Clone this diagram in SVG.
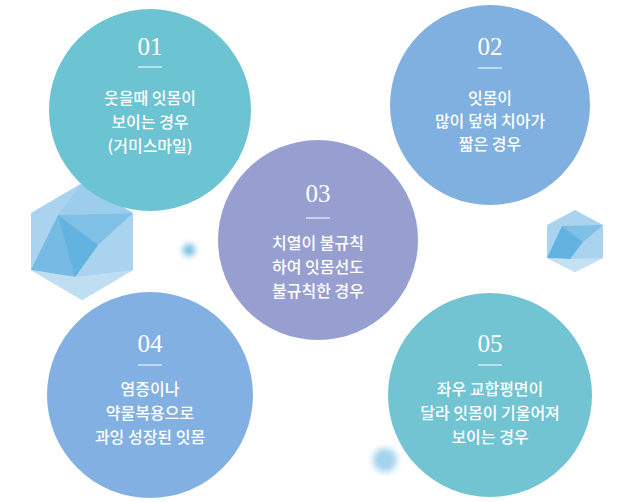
<svg xmlns="http://www.w3.org/2000/svg" width="640" height="502" viewBox="0 0 640 502">
<defs>
<style>
.n{font-family:"Liberation Serif",serif;font-size:25px;fill:#fff;text-anchor:middle}
.t{font-family:"Noto Sans CJK KR","Liberation Sans",sans-serif;font-size:16px;font-weight:500;fill:#fff;text-anchor:middle}
.l{stroke:#fff;stroke-width:1}
</style>
<filter id="b" x="-1" y="-1" width="3" height="3"><feGaussianBlur stdDeviation="3"/></filter>
</defs>
<rect width="640" height="502" fill="#fff"/>
<g id="hexL">
<polygon points="82,183 133,213 133,270 82,300 31,270 31,213" fill="#a9d3ee"/>
<polygon points="58,215 98,245 75,277 31,270" fill="#75bbe4"/>
<polygon points="58,215 133,213 98,245" fill="#7fc0e6"/>
<polygon points="58,215 98,245 75,277" fill="#62b3e0"/>
<polygon points="82,183 133,213 58,215" fill="#9ccdec"/>
<polygon points="75,277 133,270 82,300 31,270" fill="#bfdef2"/>
</g>
<g id="hexR">
<polygon points="575,210 603,225 603,258 575,272 547,258 547,225" fill="#a9d3ee"/>
<polygon points="562,226 603,225 583,242" fill="#7fc0e6"/>
<polygon points="562,226 583,242 570,259 547,258" fill="#62b3e0"/>
<polygon points="570,259 603,258 575,272 547,258" fill="#c4e1f3"/>
</g>
<circle cx="189" cy="250" r="6" fill="#6cb8e3" filter="url(#b)"/>
<circle cx="385" cy="460" r="12" fill="#8cc8ea" filter="url(#b)" opacity="0.8"/>
<g id="c1"><circle cx="150" cy="110" r="101" fill="#6cc3d1"/>
<text class="n" x="150" y="55">01</text><line class="l" x1="138" y1="67" x2="162" y2="67"/>
<text class="t" x="150" y="104">웃을때 잇몸이</text><text class="t" x="150" y="128">보이는 경우</text><text class="t" x="150" y="152">(거미스마일)</text></g>
<g id="c2"><circle cx="490" cy="105" r="100" fill="#7fb0e0"/>
<text class="n" x="490" y="55">02</text><line class="l" x1="478" y1="68" x2="502" y2="68"/>
<text class="t" x="490" y="104">잇몸이</text><text class="t" x="490" y="127">많이 덮혀 치아가</text><text class="t" x="490" y="150">짧은 경우</text></g>
<g id="c3"><circle cx="318" cy="240" r="100" fill="#979fd0"/>
<text class="n" x="318" y="202">03</text><line class="l" x1="306" y1="218" x2="330" y2="218"/>
<text class="t" x="318" y="249">치열이 불규칙</text><text class="t" x="318" y="273">하여 잇몸선도</text><text class="t" x="318" y="297">불규칙한 경우</text></g>
<g id="c4"><circle cx="150" cy="395" r="103" fill="#82b0e2"/>
<text class="n" x="150" y="352">04</text><line class="l" x1="138" y1="365" x2="162" y2="365"/>
<text class="t" x="150" y="395">염증이나</text><text class="t" x="150" y="419">약물복용으로</text><text class="t" x="150" y="443">과잉 성장된 잇몸</text></g>
<g id="c5"><circle cx="490" cy="395" r="102" fill="#72c4d3"/>
<text class="n" x="490" y="352">05</text><line class="l" x1="478" y1="365" x2="502" y2="365"/>
<text class="t" x="490" y="395">좌우 교합평면이</text><text class="t" x="490" y="419">달라 잇몸이 기울어져</text><text class="t" x="490" y="443">보이는 경우</text></g>
</svg>
